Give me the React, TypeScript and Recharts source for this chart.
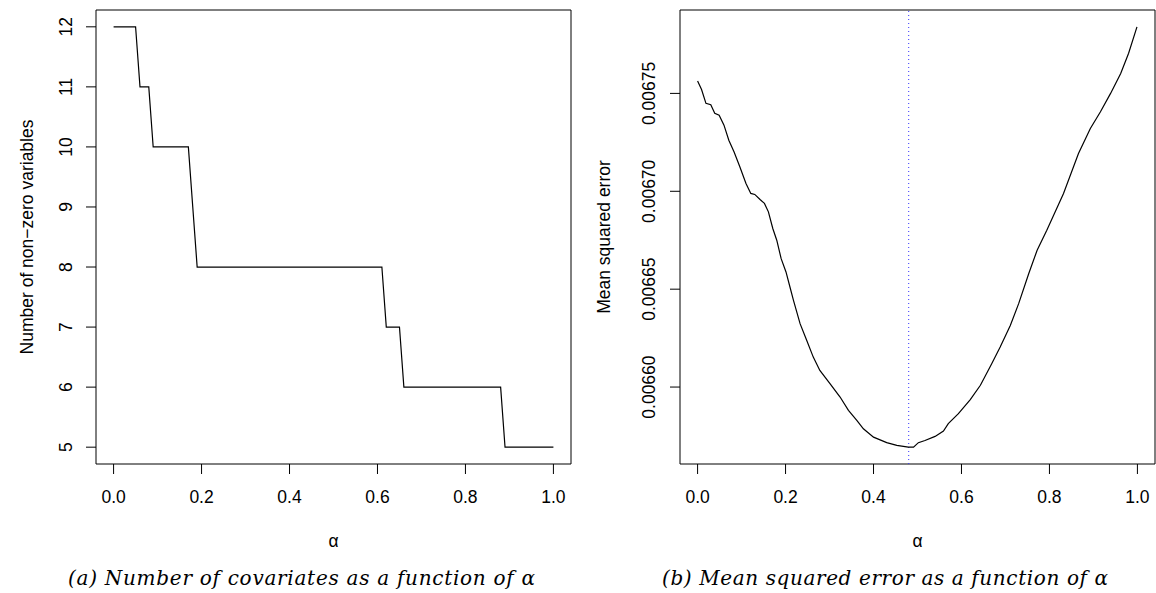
import React from 'react';
import { LineChart, Line, XAxis, YAxis, ReferenceArea, ReferenceLine } from 'recharts';

// ---- data ----
const alphaTicks = [0, 0.2, 0.4, 0.6, 0.8, 1.0];
const countTicks = [5, 6, 7, 8, 9, 10, 11, 12];
const mseTicks = [0.0066, 0.00665, 0.0067, 0.00675];

const countAlpha = [0, 0.05, 0.06, 0.08, 0.09, 0.17, 0.18, 0.19, 0.61, 0.62, 0.65, 0.66, 0.88, 0.89, 1.0];
const countValues = [12, 12, 11, 11, 10, 10, 9, 8, 8, 7, 7, 6, 6, 5, 5];

const mseAlpha = [
  0.0, 0.009, 0.019, 0.03, 0.039, 0.049, 0.06, 0.071, 0.083, 0.096,
  0.11, 0.121, 0.13, 0.142, 0.152, 0.161, 0.171, 0.18, 0.19, 0.201,
  0.21, 0.218, 0.233, 0.248, 0.263, 0.278, 0.301, 0.324, 0.343, 0.362,
  0.377, 0.4, 0.43, 0.453, 0.479, 0.491, 0.502, 0.517, 0.54, 0.559,
  0.57, 0.593, 0.62, 0.643, 0.669, 0.688, 0.711, 0.73, 0.753, 0.772,
  0.794, 0.832, 0.866, 0.893, 0.916, 0.939, 0.962, 0.98, 0.999,
];
const mseValues = [
  0.0067563, 0.006752, 0.0067449, 0.0067442, 0.0067398, 0.0067389, 0.0067338, 0.0067261, 0.0067201, 0.0067125,
  0.006704, 0.0066989, 0.0066984, 0.0066958, 0.0066938, 0.0066895, 0.006681, 0.006675, 0.0066656, 0.0066588,
  0.0066511, 0.0066443, 0.0066324, 0.0066239, 0.0066153, 0.0066085, 0.0066017, 0.0065949, 0.0065881, 0.006583,
  0.0065787, 0.0065744, 0.0065716, 0.0065702, 0.0065693, 0.0065693, 0.0065716, 0.0065727, 0.0065748, 0.0065775,
  0.0065813, 0.0065864, 0.0065936, 0.0066009, 0.006612, 0.0066205, 0.0066315, 0.0066426, 0.006658, 0.0066699,
  0.0066801, 0.0066989, 0.0067193, 0.0067321, 0.0067406, 0.00675, 0.0067602, 0.0067705, 0.006784,
];
const bestAlpha = 0.48;

const countData = countAlpha.map((a, i) => ({ alpha: a, count: countValues[i] }));
const mseData = mseAlpha.map((a, i) => ({ alpha: a, mse: mseValues[i] }));

const SANS = '"Liberation Sans", Arial, Helvetica, sans-serif';
const SERIF = '"DejaVu Serif", "Liberation Serif", serif';
const FS = 17.5;

const xDomain: [number, number] = [-0.04, 1.04];
const countDomain: [number, number] = [4.72, 12.28];
const mseDomain: [number, number] = [0.0065607, 0.0067926];

const makeRotTick = (shift: number, fmt: (v: number) => string) => (props: any) => {
  const { x, y, payload } = props;
  const bx = x - shift;
  return (
    <text
      x={bx}
      y={y}
      transform={`rotate(-90, ${bx}, ${y})`}
      textAnchor="middle"
      fill="#000"
      fontSize={FS}
      fontFamily={SANS}
    >
      {fmt(payload.value)}
    </text>
  );
};

const xTick = { fill: '#000', fontSize: FS, fontFamily: SANS };

export default function App() {
  return (
    <div style={{ position: 'absolute', left: 0, top: 0, width: 1156, height: 593, background: '#fff' }}>
      <div style={{ position: 'absolute', left: 0, top: 0 }}>
        <LineChart width={578} height={593} data={countData} margin={{ top: 10, right: 7, bottom: 79, left: 46 }}>
          <XAxis
            type="number"
            dataKey="alpha"
            domain={xDomain}
            ticks={alphaTicks}
            tickFormatter={(v: number) => v.toFixed(1)}
            axisLine={false}
            tickSize={10}
            tickMargin={17}
            height={50}
            tick={xTick}
            stroke="#000"
            allowDataOverflow
          />
          <YAxis
            type="number"
            domain={countDomain}
            ticks={countTicks}
            width={50}
            axisLine={false}
            tickSize={10}
            stroke="#000"
            tick={makeRotTick(12, (v) => String(v))}
            allowDataOverflow
          />
          <ReferenceArea
            x1={xDomain[0]}
            x2={xDomain[1]}
            y1={countDomain[0]}
            y2={countDomain[1]}
            fill="none"
            fillOpacity={0}
            stroke="#000"
            strokeWidth={1}
            ifOverflow="visible"
          />
          <Line type="linear" dataKey="count" stroke="#000" strokeWidth={1.2} dot={false} isAnimationActive={false} />
        </LineChart>
      </div>
      <div style={{ position: 'absolute', left: 578, top: 0 }}>
        <LineChart width={578} height={593} data={mseData} margin={{ top: 10, right: 1, bottom: 79, left: 52 }}>
          <XAxis
            type="number"
            dataKey="alpha"
            domain={xDomain}
            ticks={alphaTicks}
            tickFormatter={(v: number) => v.toFixed(1)}
            axisLine={false}
            tickSize={10}
            tickMargin={17}
            height={50}
            tick={xTick}
            stroke="#000"
            allowDataOverflow
          />
          <YAxis
            type="number"
            domain={mseDomain}
            ticks={mseTicks}
            width={50}
            axisLine={false}
            tickSize={10}
            stroke="#000"
            tick={makeRotTick(13, (v) => v.toFixed(5))}
            allowDataOverflow
          />
          <ReferenceArea
            x1={xDomain[0]}
            x2={xDomain[1]}
            y1={mseDomain[0]}
            y2={mseDomain[1]}
            fill="none"
            fillOpacity={0}
            stroke="#000"
            strokeWidth={1}
            ifOverflow="visible"
          />
          <ReferenceLine
            x={bestAlpha}
            stroke="#0000ff"
            strokeWidth={1}
            strokeDasharray="1 3"
            ifOverflow="visible"
            style={{ stroke: '#3333ff' }}
          />
          <Line type="linear" dataKey="mse" stroke="#000" strokeWidth={1.2} dot={false} isAnimationActive={false} />
        </LineChart>
      </div>
      <svg
        width={1156}
        height={593}
        style={{ position: 'absolute', left: 0, top: 0, pointerEvents: 'none' }}
      >
        <text x={33} y={237} transform="rotate(-90, 33, 237)" textAnchor="middle" fontSize={FS} fontFamily={SANS} fill="#000">
          Number of non−zero variables
        </text>
        <text x={610} y={237} transform="rotate(-90, 610, 237)" textAnchor="middle" fontSize={FS} fontFamily={SANS} fill="#000">
          Mean squared error
        </text>
        <text x={333.5} y={546.5} textAnchor="middle" fontSize={FS} fontFamily={SANS} fill="#000">α</text>
        <text x={917.5} y={546.5} textAnchor="middle" fontSize={FS} fontFamily={SANS} fill="#000">α</text>
        <text x={68} y={585} textLength={467} lengthAdjust="spacing" fontSize={20} fontStyle="italic" fontFamily={SERIF} fill="#000">
          (a) Number of covariates as a function of α
        </text>
        <text x={662} y={585} textLength={446} lengthAdjust="spacing" fontSize={20} fontStyle="italic" fontFamily={SERIF} fill="#000">
          (b) Mean squared error as a function of α
        </text>
      </svg>
    </div>
  );
}
